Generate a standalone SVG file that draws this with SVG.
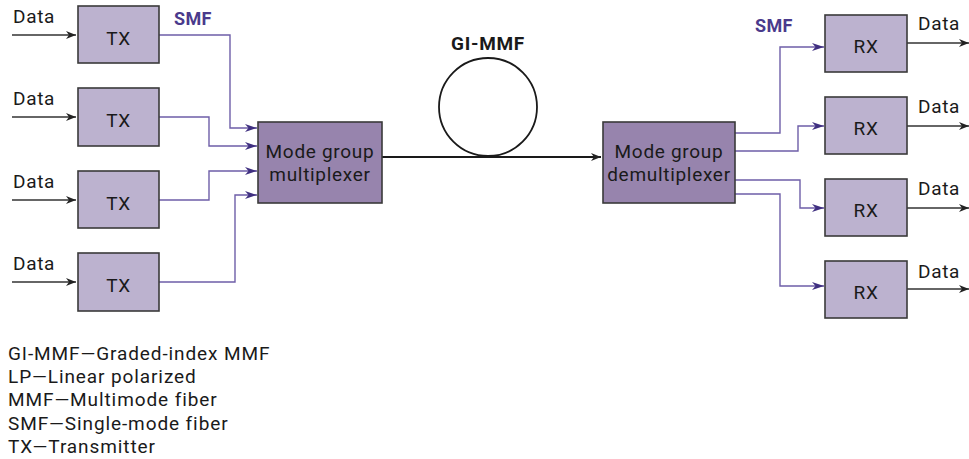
<svg xmlns="http://www.w3.org/2000/svg" width="969" height="459" viewBox="0 0 969 459">
<defs>
<style>
.bg{fill:#ffffff}
.unit{fill:#bcb2cf;stroke:#3a3a3a;stroke-width:1.6}
.mux{fill:#9784ad;stroke:#3a3a3a;stroke-width:1.6}
.t{font-family:Roboto,"Liberation Sans",sans-serif;fill:#1a1a1a;letter-spacing:0.7px}
.lbl{font-size:19px;text-anchor:middle}
.data{font-size:19px}
.smf{font-family:Roboto,"Liberation Sans",sans-serif;font-weight:bold;font-size:18px;fill:#4a3a8c;letter-spacing:0.3px}
.gi{font-family:Roboto,"Liberation Sans",sans-serif;font-weight:bold;font-size:19px;fill:#1a1a1a;text-anchor:middle;letter-spacing:0.7px}
.leg{font-family:Roboto,"Liberation Sans",sans-serif;font-size:19px;letter-spacing:0.9px;fill:#1a1a1a}
.blk{fill:none;stroke:#333333;stroke-width:1.4}
.fib{fill:none;stroke:#1a1a1a;stroke-width:1.8}
.pur{fill:none;stroke:#6e5ea8;stroke-width:1.4}
</style>
<marker id="ab" viewBox="0 0 10 8" refX="10" refY="4" markerWidth="10" markerHeight="8" markerUnits="userSpaceOnUse" orient="auto">
<path d="M0,0 L10,4 L0,8 L3,4 Z" fill="#222222"/>
</marker>
<marker id="ap" viewBox="0 0 12 8" refX="12" refY="4" markerWidth="12" markerHeight="8" markerUnits="userSpaceOnUse" orient="auto">
<path d="M0,0 L12,4 L0,8 L3.5,4 Z" fill="#3f2f80"/>
</marker>
</defs>
<rect class="bg" x="0" y="0" width="969" height="459"/>

<g id="connectors">
<line class="blk" x1="12" y1="35" x2="76" y2="35" marker-end="url(#ab)"/>
<line class="blk" x1="12" y1="117" x2="76" y2="117" marker-end="url(#ab)"/>
<line class="blk" x1="12" y1="200" x2="76" y2="200" marker-end="url(#ab)"/>
<line class="blk" x1="12" y1="282" x2="76" y2="282" marker-end="url(#ab)"/>
<polyline class="pur" points="159,35 230,35 230,128 257,128" marker-end="url(#ap)"/>
<polyline class="pur" points="159,117 209,117 209,146 257,146" marker-end="url(#ap)"/>
<polyline class="pur" points="159,200 209,200 209,171 257,171" marker-end="url(#ap)"/>
<polyline class="pur" points="159,282 235,282 235,195 257,195" marker-end="url(#ap)"/>
<line class="fib" x1="382" y1="157" x2="601" y2="157" marker-end="url(#ab)"/>
<circle class="fib" cx="488" cy="107" r="49"/>
<polyline class="pur" points="735,133 780,133 780,47 824,47" marker-end="url(#ap)"/>
<polyline class="pur" points="735,151 798,151 798,126 824,126" marker-end="url(#ap)"/>
<polyline class="pur" points="735,180 800,180 800,208 824,208" marker-end="url(#ap)"/>
<polyline class="pur" points="735,194 780,194 780,286 824,286" marker-end="url(#ap)"/>
<line class="blk" x1="907" y1="43" x2="969" y2="43" marker-end="url(#ab)"/>
<line class="blk" x1="907" y1="126" x2="969" y2="126" marker-end="url(#ab)"/>
<line class="blk" x1="907" y1="208" x2="969" y2="208" marker-end="url(#ab)"/>
<line class="blk" x1="907" y1="289" x2="969" y2="289" marker-end="url(#ab)"/>
</g>

<g id="labels">
<text class="t data" x="13" y="23">Data</text>
<text class="t data" x="13" y="105">Data</text>
<text class="t data" x="13" y="188">Data</text>
<text class="t data" x="13" y="270">Data</text>
<text class="smf" x="174" y="25">SMF</text>
<text class="gi" x="488" y="50">GI-MMF</text>
<text class="smf" x="755" y="32">SMF</text>
<text class="t data" x="918" y="30">Data</text>
<text class="t data" x="918" y="113">Data</text>
<text class="t data" x="918" y="195">Data</text>
<text class="t data" x="918" y="278">Data</text>
</g>

<g id="tx1"><rect class="unit" x="78" y="6" width="81" height="57"/><text class="t lbl" x="118.5" y="45">TX</text></g>
<g id="tx2"><rect class="unit" x="78" y="88" width="81" height="58"/><text class="t lbl" x="118.5" y="127">TX</text></g>
<g id="tx3"><rect class="unit" x="78" y="171" width="81" height="57"/><text class="t lbl" x="118.5" y="210">TX</text></g>
<g id="tx4"><rect class="unit" x="78" y="253" width="81" height="58"/><text class="t lbl" x="118.5" y="292">TX</text></g>

<g id="mux"><rect class="mux" x="258" y="122" width="124" height="81"/>
<text class="t lbl" x="320" y="158">Mode group</text>
<text class="t lbl" x="320" y="181">multiplexer</text></g>

<g id="demux"><rect class="mux" x="603" y="122" width="132" height="81"/>
<text class="t lbl" x="669" y="158">Mode group</text>
<text class="t lbl" x="669" y="181">demultiplexer</text></g>

<g id="rx1"><rect class="unit" x="825" y="15" width="82" height="57"/><text class="t lbl" x="866" y="53">RX</text></g>
<g id="rx2"><rect class="unit" x="825" y="97" width="82" height="57"/><text class="t lbl" x="866" y="135">RX</text></g>
<g id="rx3"><rect class="unit" x="825" y="179" width="82" height="57"/><text class="t lbl" x="866" y="217">RX</text></g>
<g id="rx4"><rect class="unit" x="825" y="261" width="82" height="57"/><text class="t lbl" x="866" y="299">RX</text></g>

<g id="legend">
<text class="leg" x="8" y="360">GI-MMF—Graded-index MMF</text>
<text class="leg" x="8" y="383">LP—Linear polarized</text>
<text class="leg" x="8" y="406">MMF—Multimode fiber</text>
<text class="leg" x="8" y="430">SMF—Single-mode fiber</text>
<text class="leg" x="8" y="453">TX—Transmitter</text>
</g>
</svg>
